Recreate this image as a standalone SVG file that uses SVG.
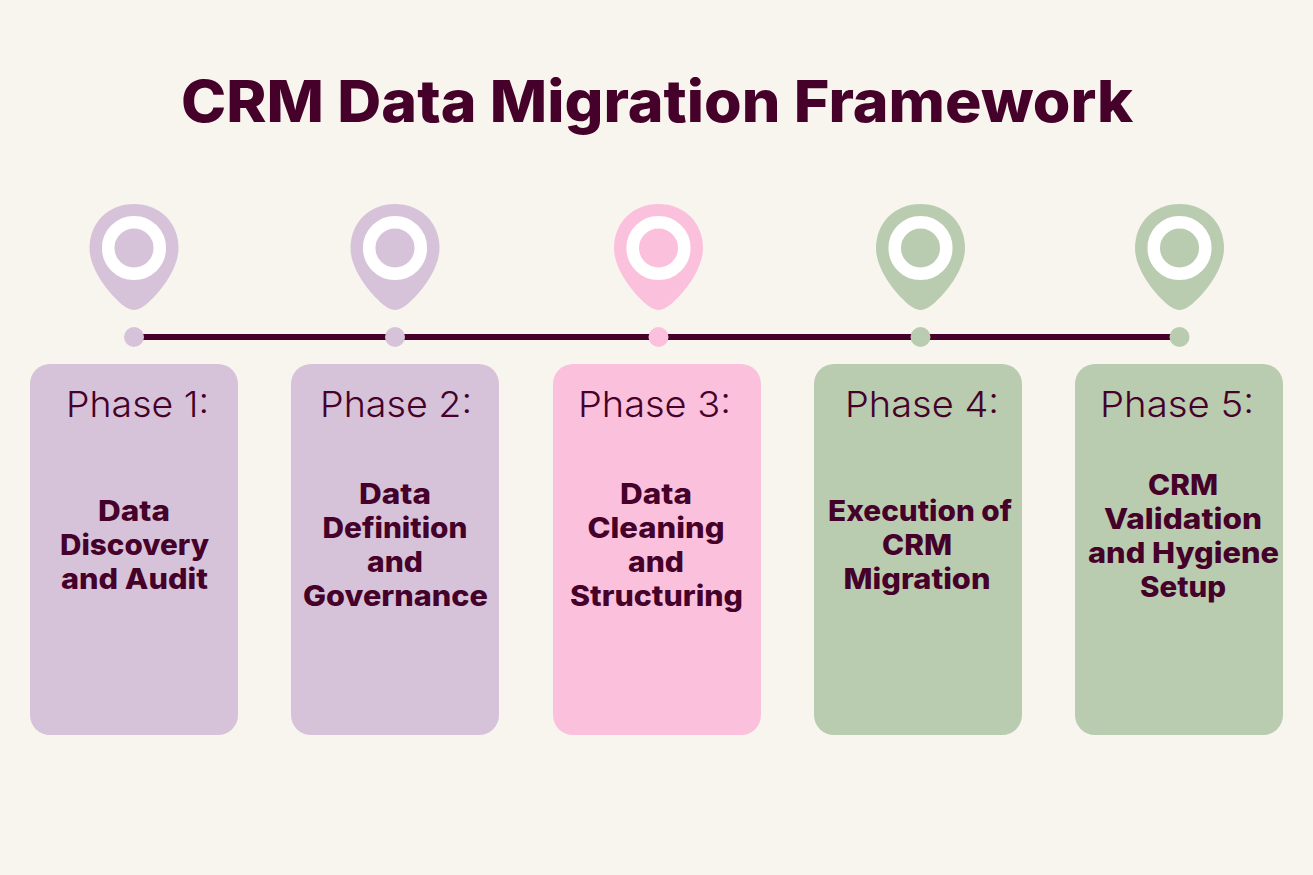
<svg xmlns="http://www.w3.org/2000/svg" width="1313" height="875" viewBox="0 0 1313 875">
<defs>
<style>
text{font-family:Inter,"Noto Sans","Liberation Sans",sans-serif;fill:#46012a;text-anchor:middle}
.t{font-size:58px;font-weight:800}
.p{font-size:36px;font-weight:300}
.b{font-size:28px;font-weight:800}
.purple{fill:#d7c3d9}.pink{fill:#fbc1dc}.green{fill:#b9ccb0}
.ring{fill:none;stroke:#fff;stroke-width:12.500}
</style>
<path id="pin" d="M0 53C-6 53 -12 48 -20 40C-33 26 -44.500 8 -44.500 -9C-44.500 -35 -25 -53 0 -53C25 -53 44.500 -35 44.500 -9C44.500 8 33 26 20 40C12 48 6 53 0 53Z"/>
</defs>
<rect width="1313" height="875" fill="#f8f5ee"/>
<text class="t" x="657" y="122" textLength="952" lengthAdjust="spacingAndGlyphs">CRM Data Migration Framework</text>
<g id="connectors"><line x1="134" y1="337" x2="1179" y2="337" stroke="#46012a" stroke-width="6"/></g>
<g id="node1"><use href="#pin" class="purple" x="134" y="257"/><circle class="ring" cx="134" cy="248" r="25.800"/><circle class="purple" cx="134" cy="337" r="10"/><rect class="purple" x="30" y="364" width="208" height="371" rx="20"/><text class="p" x="137.500" y="417" textLength="143" lengthAdjust="spacingAndGlyphs">Phase 1:</text><text class="b" x="134" y="521" textLength="72" lengthAdjust="spacingAndGlyphs">Data</text><text class="b" x="134.500" y="555" textLength="149" lengthAdjust="spacingAndGlyphs">Discovery</text><text class="b" x="134.500" y="589" textLength="147" lengthAdjust="spacingAndGlyphs">and Audit</text></g>
<g id="node2"><use href="#pin" class="purple" x="395" y="257"/><circle class="ring" cx="395" cy="248" r="25.800"/><circle class="purple" cx="395" cy="337" r="10"/><rect class="purple" x="291" y="364" width="208" height="371" rx="20"/><text class="p" x="396" y="417" textLength="152" lengthAdjust="spacingAndGlyphs">Phase 2:</text><text class="b" x="395" y="504" textLength="72" lengthAdjust="spacingAndGlyphs">Data</text><text class="b" x="395" y="538" textLength="145" lengthAdjust="spacingAndGlyphs">Definition</text><text class="b" x="395" y="572" textLength="56" lengthAdjust="spacingAndGlyphs">and</text><text class="b" x="395.500" y="606" textLength="185" lengthAdjust="spacingAndGlyphs">Governance</text></g>
<g id="node3"><use href="#pin" class="pink" x="658.500" y="257"/><circle class="ring" cx="658.500" cy="248" r="25.800"/><circle class="pink" cx="658.500" cy="337" r="10"/><rect class="pink" x="553" y="364" width="208" height="371" rx="20"/><text class="p" x="654.500" y="417" textLength="153" lengthAdjust="spacingAndGlyphs">Phase 3:</text><text class="b" x="656" y="504" textLength="72" lengthAdjust="spacingAndGlyphs">Data</text><text class="b" x="656" y="538" textLength="137" lengthAdjust="spacingAndGlyphs">Cleaning</text><text class="b" x="656" y="572" textLength="56" lengthAdjust="spacingAndGlyphs">and</text><text class="b" x="656.500" y="606" textLength="173" lengthAdjust="spacingAndGlyphs">Structuring</text></g>
<g id="node4"><use href="#pin" class="green" x="920.500" y="257"/><circle class="ring" cx="920.500" cy="248" r="25.800"/><circle class="green" cx="920.500" cy="337" r="10"/><rect class="green" x="814" y="364" width="208" height="371" rx="20"/><text class="p" x="922" y="417" textLength="154" lengthAdjust="spacingAndGlyphs">Phase 4:</text><text class="b" x="920" y="521" textLength="184" lengthAdjust="spacingAndGlyphs">Execution of</text><text class="b" x="917" y="555" textLength="70" lengthAdjust="spacingAndGlyphs">CRM</text><text class="b" x="917" y="589" textLength="147" lengthAdjust="spacingAndGlyphs">Migration</text></g>
<g id="node5"><use href="#pin" class="green" x="1179.500" y="257"/><circle class="ring" cx="1179.500" cy="248" r="25.800"/><circle class="green" cx="1179.500" cy="337" r="10"/><rect class="green" x="1075" y="364" width="208" height="371" rx="20"/><text class="p" x="1177" y="417" textLength="154" lengthAdjust="spacingAndGlyphs">Phase 5:</text><text class="b" x="1183" y="495" textLength="70" lengthAdjust="spacingAndGlyphs">CRM</text><text class="b" x="1183" y="529" textLength="158" lengthAdjust="spacingAndGlyphs">Validation</text><text class="b" x="1183.500" y="563" textLength="191" lengthAdjust="spacingAndGlyphs">and Hygiene</text><text class="b" x="1183" y="597" textLength="86" lengthAdjust="spacingAndGlyphs">Setup</text></g>
</svg>
